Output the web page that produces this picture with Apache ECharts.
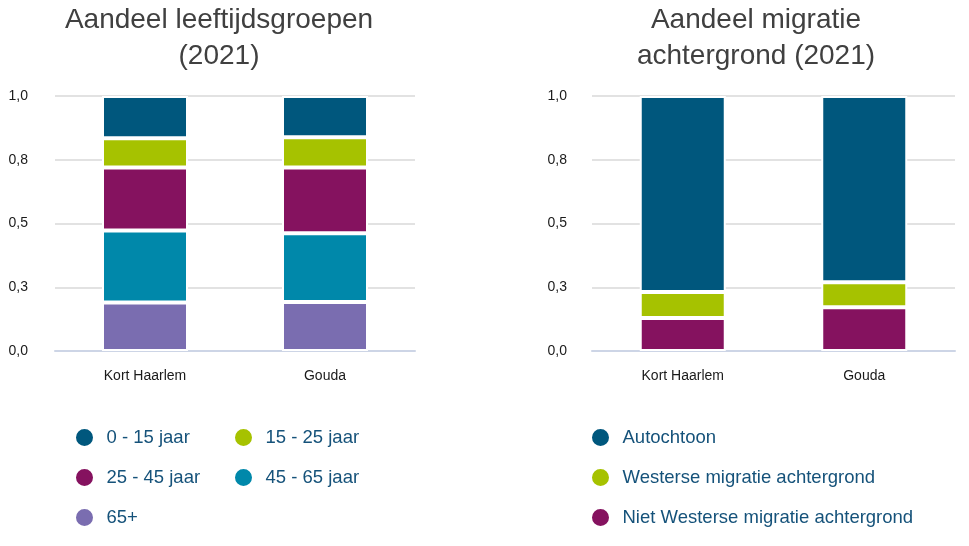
<!DOCTYPE html>
<html>
<head>
<meta charset="utf-8">
<script src="https://cdn.jsdelivr.net/npm/echarts@6/dist/echarts.min.js"></script>
<style>
  html, body { margin: 0; padding: 0; background: #fff; }
  #chart { width: 969px; height: 546px; }
</style>
</head>
<body>
<div id="chart"></div>
<script>
var categories = ['Kort Haarlem', 'Gouda'];

// leeftijdsgroepen (aandeel)
var age0_15 = [0.166, 0.162];
var age15_25 = [0.114, 0.118];
var age25_45 = [0.247, 0.258];
var age45_65 = [0.283, 0.270];
var age65plus = [0.190, 0.192];

// migratie achtergrond (aandeel)
var autochtoon = [0.769, 0.730];
var westers = [0.102, 0.098];
var nietWesters = [0.129, 0.172];

var C_DARK = '#00577d', C_LIME = '#a6c200', C_PURPLE = '#85125f',
    C_TEAL = '#0088aa', C_LAV = '#7a6db0';

var chart = echarts.init(document.getElementById('chart'), null, {renderer: 'canvas'});

function yAxis(idx, margin) {
  return {
    type: 'value', gridIndex: idx, min: 0, max: 1, interval: 0.25,
    axisLine: {show: false}, axisTick: {show: false},
    axisLabel: {
      margin: margin, fontSize: 14, color: '#1a1a1a', fontFamily: 'Liberation Sans, Arial',
      formatter: function (v) { return v.toFixed(1).replace('.', ','); }
    },
    splitLine: {lineStyle: {color: '#e2e2e2', width: 2}}
  };
}
function xAxis(idx) {
  return {
    type: 'category', gridIndex: idx, data: categories,
    axisLine: {lineStyle: {color: '#cdd5e6', width: 2}},
    axisTick: {show: false},
    axisLabel: {margin: 18, fontSize: 14, color: '#1a1a1a', fontFamily: 'Liberation Sans, Arial'}
  };
}
function bar(name, data, color, idx, stack) {
  return {
    type: 'bar', name: name, data: data, stack: stack,
    xAxisIndex: idx, yAxisIndex: idx, barWidth: 86,
    itemStyle: {color: color, borderColor: '#fff', borderWidth: 2},
    emphasis: {disabled: true}
  };
}
function legend(names, left, top) {
  return {
    data: names, orient: 'vertical', left: left, top: top,
    icon: 'circle', itemWidth: 34, itemHeight: 19, itemGap: 19,
    selectedMode: false,
    textStyle: {fontSize: 18.5, color: '#15527a', fontFamily: 'Liberation Sans, Arial', lineHeight: 19}
  };
}
function titleText(text, x, y) {
  return {
    type: 'text', x: x, y: y,
    style: {text: text, fill: '#404040', font: '28px "Liberation Sans", Arial',
            textAlign: 'center', textVerticalAlign: 'middle'}
  };
}

var option = {
  animation: false,
  textStyle: {fontFamily: 'Liberation Sans, Arial'},
  grid: [
    {left: 55, right: 554, top: 96, bottom: 195},
    {left: 592, right: 14, top: 96, bottom: 195}
  ],
  xAxis: [xAxis(0), xAxis(1)],
  yAxis: [yAxis(0, 27), yAxis(1, 25)],
  legend: [
    legend(['0 - 15 jaar', '25 - 45 jaar', '65+'], 69, 422),
    legend(['15 - 25 jaar', '45 - 65 jaar'], 228, 422),
    legend(['Autochtoon', 'Westerse migratie achtergrond', 'Niet Westerse migratie achtergrond'], 585, 422)
  ],
  graphic: [
    titleText('Aandeel leeftijdsgroepen', 219, 20),
    titleText('(2021)', 219, 56),
    titleText('Aandeel migratie', 756, 20),
    titleText('achtergrond (2021)', 756, 56)
  ],
  series: [
    bar('65+', age65plus, C_LAV, 0, 'age'),
    bar('45 - 65 jaar', age45_65, C_TEAL, 0, 'age'),
    bar('25 - 45 jaar', age25_45, C_PURPLE, 0, 'age'),
    bar('15 - 25 jaar', age15_25, C_LIME, 0, 'age'),
    bar('0 - 15 jaar', age0_15, C_DARK, 0, 'age'),
    bar('Niet Westerse migratie achtergrond', nietWesters, C_PURPLE, 1, 'mig'),
    bar('Westerse migratie achtergrond', westers, C_LIME, 1, 'mig'),
    bar('Autochtoon', autochtoon, C_DARK, 1, 'mig')
  ]
};
chart.setOption(option);
</script>
</body>
</html>
